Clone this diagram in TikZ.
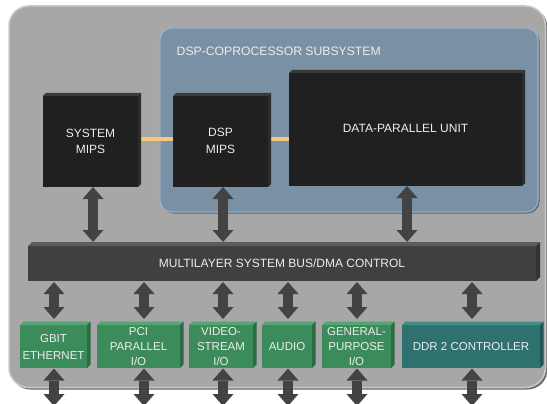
\documentclass[tikz,border=0pt]{standalone}
\usepackage{fontspec}
\setmainfont{Liberation Sans}
\usetikzlibrary{arrows.meta}
\definecolor{bgGray}{HTML}{A7A7A7}
\definecolor{bgEdge}{HTML}{C9C9C9}
\definecolor{bgShadow}{HTML}{6A6A6A}
\definecolor{subBlue}{HTML}{7A90A5}
\definecolor{subEdge}{HTML}{9DB0C2}
\definecolor{subShadow}{HTML}{56667A}
\definecolor{blkF}{HTML}{202020}
\definecolor{blkT}{HTML}{3A3A3A}
\definecolor{blkS}{HTML}{2C2C2C}
\definecolor{busF}{HTML}{404040}
\definecolor{busT}{HTML}{5C5C5C}
\definecolor{busS}{HTML}{333333}
\definecolor{grnF}{HTML}{3C8B5A}
\definecolor{grnT}{HTML}{56A474}
\definecolor{grnS}{HTML}{2D6B45}
\definecolor{tealF}{HTML}{2E716E}
\definecolor{tealT}{HTML}{428C89}
\definecolor{tealS}{HTML}{225553}
\definecolor{arrowC}{HTML}{434343}
\definecolor{linkC}{HTML}{F6C87C}
\definecolor{txtC}{HTML}{EDEDED}
\newcommand{\mybevel}[4]{%
  \fill[#3] (#1.north west) -- ++(#2,-#2) -- ([shift={(#2,-#2)}]#1.north east) -- (#1.north east) -- cycle;
  \fill[#4] (#1.north east) -- ++(#2,-#2) -- ([shift={(#2,-#2)}]#1.south east) -- (#1.south east) -- cycle;}
\begin{document}
\begin{tikzpicture}[x=1pt,y=-1pt,
  box/.style={rectangle, inner sep=0pt, outer sep=0pt, text=txtC, align=center,
    font=\fontsize{12}{16}\selectfont},
  blk/.style={box, fill=blkF},
  busbox/.style={box, fill=busF},
  grn/.style={box, fill=grnF, minimum height=43pt, font=\fontsize{11.5}{15}\selectfont},
  teal/.style={box, fill=tealF, minimum height=43pt, font=\fontsize{11.5}{15}\selectfont},
  dbl/.style={draw=arrowC, line width=10pt,
    {Triangle[width=21pt,length=12pt,line width=0pt]}-{Triangle[width=21pt,length=12pt,line width=0pt]}},
  link/.style={draw=linkC, line width=4pt}
]
\useasboundingbox (0,0) rectangle (547,404);
\clip (0,0) rectangle (547,404);
\fill[white] (0,0) rectangle (547,404);
% outer chip
\fill[bgShadow, rounded corners=20pt] (10.5,7.5) rectangle (547.5,389.5);
\filldraw[fill=bgGray, draw=bgEdge, line width=1.5pt, rounded corners=20pt] (9,6) rectangle (545.5,387.5);
% subsystem
\fill[subShadow, rounded corners=12pt] (161.5,29.5) rectangle (539.5,213.5);
\filldraw[fill=subBlue, draw=subEdge, line width=1.2pt, rounded corners=12pt] (160,28) rectangle (538,212);
\node[anchor=west, text=txtC, font=\fontsize{12.2}{14}\selectfont, inner sep=0pt] (title) at (176.5,51) {DSP-COPROCESSOR SUBSYSTEM};
% processors
\node[blk, minimum width=95pt, minimum height=91pt] (sys) at (90.5,141.5) {SYSTEM\\MIPS};
\node[blk, minimum width=95pt, minimum height=91pt] (dsp) at (220.5,141.5) {\raisebox{-7.5pt}{\fontsize{12}{17}\selectfont\begin{tabular}{@{}c@{}}DSP\\MIPS\end{tabular}}};
\node[blk, minimum width=233pt, minimum height=113pt] (dpu) at (405.5,129.5) {\raisebox{3pt}{DATA-PARALLEL UNIT}};
\draw[link] ([xshift=3pt,yshift=2.5pt]sys.east) -- ([yshift=2.5pt]sys.east -| dsp.west);
\draw[link] ([xshift=3pt,yshift=2.5pt]dsp.east) -- ([yshift=2.5pt]dsp.east -| dpu.west);
\mybevel{sys}{3}{blkT}{blkS}
\mybevel{dsp}{3}{blkT}{blkS}
\mybevel{dpu}{3}{blkT}{blkS}
% bus
\node[busbox, minimum width=508pt, minimum height=35pt] (bus) at (282,263.5) {\raisebox{-2pt}{MULTILAYER SYSTEM BUS/DMA CONTROL}};
\mybevel{bus}{4}{busT}{busS}
% peripherals
\node[grn, minimum width=67pt, font=\fontsize{11.5}{17}\selectfont] (gbit) at (53.5,346.5) {GBIT\\ETHERNET};
\node[grn, minimum width=83pt] (pci) at (138.5,346.5) {PCI\\PARALLEL\\I/O};
\node[grn, minimum width=64pt] (video) at (221,346.5) {VIDEO-\\STREAM\\I/O};
\node[grn, minimum width=50pt] (audio) at (287,346.5) {AUDIO};
\node[grn, minimum width=69pt] (gpio) at (356.5,346.5) {GENERAL-\\PURPOSE\\I/O};
\node[teal, minimum width=138pt] (ddr) at (471,346.5) {DDR 2 CONTROLLER};
\foreach \n in {gbit,pci,video,audio,gpio}{\mybevel{\n}{3.5}{grnT}{grnS}}
\mybevel{ddr}{3.5}{tealT}{tealS}
% arrows to bus
\draw[dbl, shorten >=4pt] ([xshift=2.5pt]sys.south) -- ([xshift=2.5pt]sys.south |- bus.north);
\draw[dbl, shorten >=4pt] ([xshift=2.5pt]dsp.south) -- ([xshift=2.5pt]dsp.south |- bus.north);
\draw[dbl, shorten >=4pt] ([xshift=1.5pt]dpu.south) -- ([xshift=1.5pt]dpu.south |- bus.north);
% bus to peripherals
\draw[dbl, shorten >=6pt, shorten <=1pt] ([xshift=0.5pt]gbit.north |- bus.south) -- ([xshift=0.5pt]gbit.north);
\draw[dbl, shorten >=6pt, shorten <=1pt] ([xshift=5.5pt]pci.north |- bus.south) -- ([xshift=5.5pt]pci.north);
\draw[dbl, shorten >=6pt, shorten <=1pt] ([xshift=2pt]video.north |- bus.south) -- ([xshift=2pt]video.north);
\draw[dbl, shorten >=6pt, shorten <=1pt] ([xshift=1pt]audio.north |- bus.south) -- ([xshift=1pt]audio.north);
\draw[dbl, shorten >=6pt, shorten <=1pt] ([xshift=0.5pt]gpio.north |- bus.south) -- ([xshift=0.5pt]gpio.north);
\draw[dbl, shorten >=6pt, shorten <=1pt] ([xshift=1pt]ddr.north |- bus.south) -- ([xshift=1pt]ddr.north);
% off-chip
\coordinate (floor) at (0,406);
\foreach \n/\s in {gbit/0.5,pci/5.5,video/2,audio/1,gpio/0.5,ddr/1}{
  \draw[dbl, shorten <=0.5pt] ([xshift=\s pt]\n.south) -- ([xshift=\s pt]\n.south |- floor);
}
\end{tikzpicture}
\end{document}
